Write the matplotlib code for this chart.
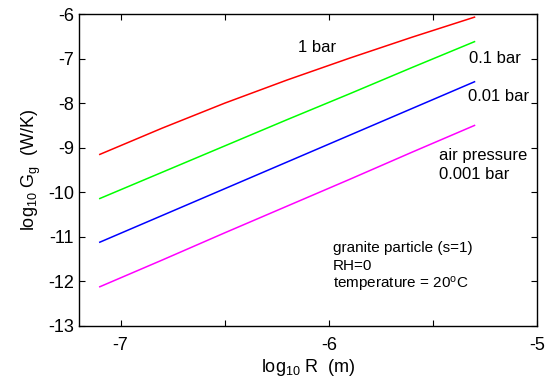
import numpy as np
import matplotlib
matplotlib.use("Agg")
import matplotlib.pyplot as plt

plt.rcParams['font.family'] = ['Liberation Sans', 'DejaVu Sans']
plt.rcParams['mathtext.fontset'] = 'custom'
plt.rcParams['mathtext.rm'] = 'Liberation Sans'
plt.rcParams['mathtext.it'] = 'Liberation Sans:italic'
plt.rcParams['axes.unicode_minus'] = False

# log10 R (m)
log_r = [-7.1, -6.8, -6.5, -6.2, -5.9, -5.6, -5.3]
# log10 G_g (W/K) for each air pressure
g_1bar = [-9.15, -8.56, -8.00, -7.48, -6.99, -6.52, -6.07]
g_01bar = [-10.14, -9.55, -8.96, -8.37, -7.79, -7.20, -6.62]
g_001bar = [-11.12, -10.52, -9.92, -9.32, -8.72, -8.12, -7.52]
g_0001bar = [-12.12, -11.52, -10.91, -10.31, -9.71, -9.10, -8.50]

series = [(g_1bar, "#ff0000"), (g_01bar, "#00ff00"),
          (g_001bar, "#0000ff"), (g_0001bar, "#ff00ff")]

fig = plt.figure(figsize=(5.5, 3.81), dpi=100)
ax = fig.add_axes([0.1436, 0.1444, 0.8327, 0.8188])

for ys, c in series:
    ax.plot(log_r, ys, color=c, lw=1.1)

ax.set_xlim(-7.2, -5)
ax.set_ylim(-13, -6)
ax.set_xticks([-7, -6, -5])
ax.set_xticks([-6.5, -5.5], minor=True)
ax.set_yticks(np.arange(-13, -5))
ax.tick_params(which="both", direction="in", top=True, right=True,
               length=4, width=0.8, labelsize=13)
ax.tick_params(axis="x", pad=8)
for s in ax.spines.values():
    s.set_linewidth(1.0)

ax.set_xlabel(r"log$_{10}$ R  (m)", fontsize=13, labelpad=2)
ax.set_ylabel(r"log$_{10}$ G$_\mathrm{g}$  (W/K)", fontsize=13, labelpad=4)

fs = 12
ax.text(-6.15, -6.76, "1 bar", fontsize=fs, va="center")
ax.text(-5.325, -7.0, "0.1 bar", fontsize=fs, va="center")
ax.text(-5.33, -7.86, "0.01 bar", fontsize=fs, va="center")
ax.text(-5.47, -9.18, "air pressure", fontsize=fs, va="center")
ax.text(-5.47, -9.59, "0.001 bar", fontsize=fs, va="center")
ax.text(-5.98, -11.25, "granite particle (s=1)", fontsize=11, va="center")
ax.text(-5.98, -11.65, "RH=0", fontsize=11, va="center")
ax.text(-5.98, -12.08, r"temperature = 20$^\mathrm{o}$C", fontsize=11, va="center")

fig.savefig("out.png", dpi=100)
